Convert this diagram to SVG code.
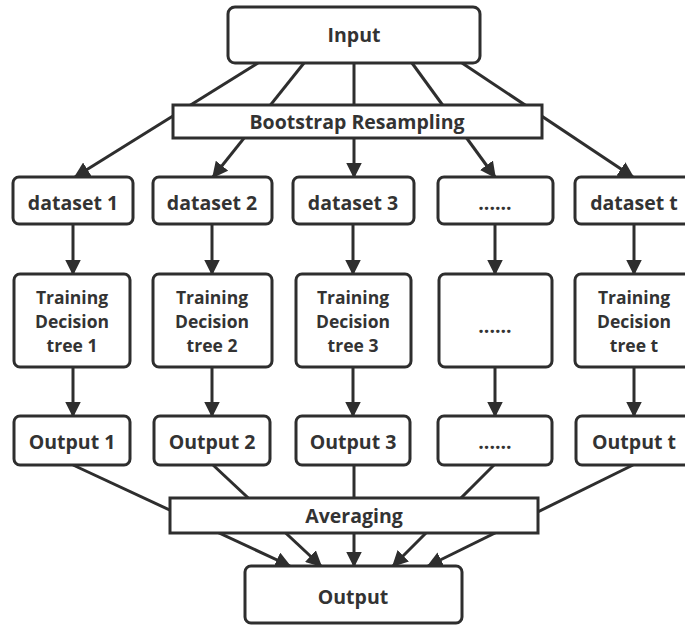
<svg xmlns="http://www.w3.org/2000/svg" width="685" height="626" viewBox="0 0 685 626">
<defs>
<style>
.box{fill:#fff;stroke:#2e2e2e;stroke-width:3}
.bar{fill:#fff;stroke:#2e2e2e;stroke-width:3}
.t{font-family:"Open Sans","Noto Sans","DejaVu Sans",sans-serif;font-weight:bold;font-size:19.5px;fill:#333;text-anchor:middle}
.tr{font-size:17.5px}
.c{stroke:#2e2e2e;stroke-width:3;fill:none}
.a{marker-end:url(#ah)}
</style>
<marker id="ah" markerUnits="userSpaceOnUse" markerWidth="16" markerHeight="16" viewBox="0 0 16 16" refX="14.5" refY="8" orient="auto">
<path d="M0,0 L16,8 L0,16 Z" fill="#2e2e2e"/>
</marker>
</defs>
<rect width="685" height="626" fill="#fff"/>
<g id="connectors">
<line class="c a" x1="258" y1="63" x2="75" y2="177"/>
<line class="c a" x1="304" y1="63" x2="213" y2="177"/>
<line class="c a" x1="354" y1="63" x2="354" y2="177"/>
<line class="c a" x1="412" y1="63" x2="495" y2="177"/>
<line class="c a" x1="462" y1="63" x2="633" y2="177"/>
<line class="c a" x1="73" y1="224" x2="73" y2="274"/>
<line class="c a" x1="212" y1="224" x2="212" y2="274"/>
<line class="c a" x1="353" y1="224" x2="353" y2="274"/>
<line class="c a" x1="495" y1="224" x2="495" y2="274"/>
<line class="c a" x1="634" y1="224" x2="634" y2="274"/>
<line class="c a" x1="73" y1="367" x2="73" y2="416"/>
<line class="c a" x1="212" y1="367" x2="212" y2="416"/>
<line class="c a" x1="353" y1="367" x2="353" y2="416"/>
<line class="c a" x1="495" y1="367" x2="495" y2="416"/>
<line class="c a" x1="634" y1="367" x2="634" y2="416"/>
<line class="c a" x1="73" y1="465" x2="290" y2="566"/>
<line class="c a" x1="213" y1="465" x2="321" y2="566"/>
<line class="c a" x1="354" y1="465" x2="354" y2="566"/>
<line class="c a" x1="494" y1="465" x2="393" y2="566"/>
<line class="c a" x1="633" y1="465" x2="428" y2="566"/>
</g>
<g id="input"><rect class="box" x="228" y="7" width="252" height="56" rx="7"/><text class="t" x="354" y="42" font-size="20">Input</text></g>
<g id="bootstrap"><rect class="bar" x="173" y="105" width="369" height="33"/><text class="t" x="357" y="129">Bootstrap Resampling</text></g>
<g id="dataset1"><rect class="box" x="13" y="177" width="120" height="47" rx="6"/><text class="t" x="73" y="210">dataset 1</text></g>
<g id="dataset2"><rect class="box" x="153" y="177" width="119" height="47" rx="6"/><text class="t" x="212" y="210">dataset 2</text></g>
<g id="dataset3"><rect class="box" x="293" y="177" width="121" height="47" rx="6"/><text class="t" x="353" y="210">dataset 3</text></g>
<g id="dataset4"><rect class="box" x="438" y="177" width="115" height="47" rx="6"/><text class="t" x="495" y="210">......</text></g>
<g id="datasett"><rect class="box" x="575" y="177" width="120" height="47" rx="6"/><text class="t" x="634" y="210">dataset t</text></g>
<g id="tree1"><rect class="box" x="14" y="274" width="116" height="93" rx="6"/><text class="t tr" x="72" y="304">Training</text><text class="t tr" x="72" y="328">Decision</text><text class="t tr" x="72" y="352">tree 1</text></g>
<g id="tree2"><rect class="box" x="153" y="274" width="119" height="93" rx="6"/><text class="t tr" x="212" y="304">Training</text><text class="t tr" x="212" y="328">Decision</text><text class="t tr" x="212" y="352">tree 2</text></g>
<g id="tree3"><rect class="box" x="296" y="274" width="115" height="93" rx="6"/><text class="t tr" x="353" y="304">Training</text><text class="t tr" x="353" y="328">Decision</text><text class="t tr" x="353" y="352">tree 3</text></g>
<g id="tree4"><rect class="box" x="439" y="274" width="113" height="93" rx="6"/><text class="t" x="495" y="333">......</text></g>
<g id="treet"><rect class="box" x="575" y="274" width="120" height="93" rx="6"/><text class="t tr" x="634" y="304">Training</text><text class="t tr" x="634" y="328">Decision</text><text class="t tr" x="634" y="352">tree t</text></g>
<g id="output1"><rect class="box" x="14" y="416" width="116" height="49" rx="6"/><text class="t" x="72" y="449" font-size="18.5">Output 1</text></g>
<g id="output2"><rect class="box" x="154" y="416" width="116" height="49" rx="6"/><text class="t" x="212" y="449" font-size="18.5">Output 2</text></g>
<g id="output3"><rect class="box" x="296" y="416" width="114" height="49" rx="6"/><text class="t" x="353" y="449" font-size="18.5">Output 3</text></g>
<g id="output4"><rect class="box" x="438" y="416" width="114" height="49" rx="6"/><text class="t" x="495" y="449">......</text></g>
<g id="outputt"><rect class="box" x="576" y="416" width="120" height="49" rx="6"/><text class="t" x="634" y="449" font-size="18.5">Output t</text></g>
<g id="averaging"><rect class="bar" x="170" y="498" width="368" height="35"/><text class="t" x="354" y="523">Averaging</text></g>
<g id="output"><rect class="box" x="245" y="566" width="217" height="57" rx="6"/><text class="t" x="353" y="604" font-size="20">Output</text></g>
</svg>
